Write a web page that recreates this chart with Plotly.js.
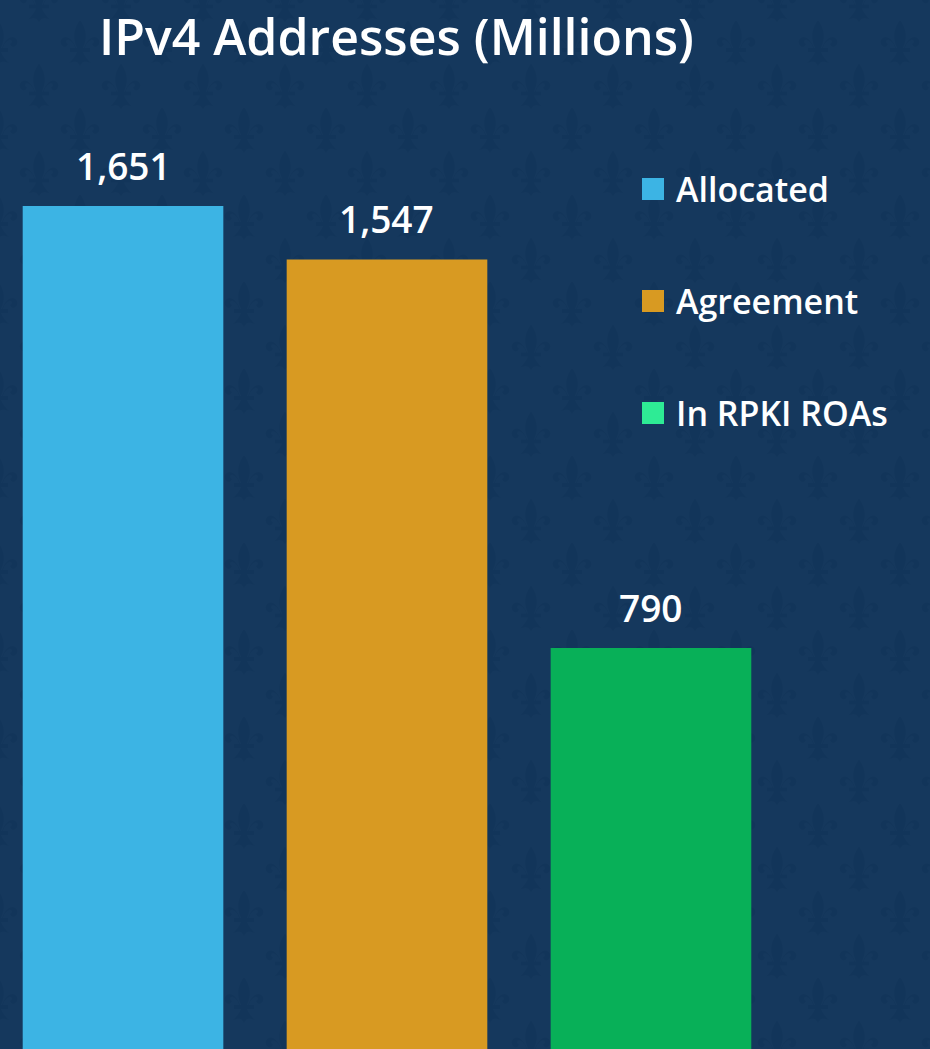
<!DOCTYPE html>
<html>
<head>
<meta charset="utf-8">
<script src="https://cdn.plot.ly/plotly-3.0.1.min.js"></script>
<style>
html,body{margin:0;padding:0;}
#chart{width:930px;height:1049px;}
</style>
</head>
<body>
<div id="chart"></div>
<script>
// ---- data ----
const categories = ["Allocated", "Agreement", "In RPKI ROAs"];
const values = [1651, 1547, 790];
const barColors = ["#3CB4E4", "#D89A22", "#08B058"];
const legendColors = ["#3CB4E4", "#D89A22", "#2EEB95"];
const titleText = "IPv4 Addresses (Millions)";

const W = 930, H = 1049;
const px = x => x / W;
const py = y => (H - y) / H;
const FONT = "Open Sans, Noto Sans, sans-serif";

// decorative fleur-de-lis background pattern
const fleur = 'M0,-23 C6,-15 8,-6 3,5 L-3,5 C-8,-6 -6,-15 0,-23 Z ' +
  'M-4,5 C-7,-4 -15,-10 -19,-3 C-21,3 -14,7 -12,1 C-15,0 -14,-4 -11,-3 C-7,-1 -5,3 -5,5 Z ' +
  'M4,5 C7,-4 15,-10 19,-3 C21,3 14,7 12,1 C15,0 14,-4 11,-3 C7,-1 5,3 5,5 Z ' +
  'M-10,5 L10,5 L10,9 L-10,9 Z ' +
  'M-3,9 L3,9 C5,14 8,17 11,20 C6,19 3,17 0,23 C-3,17 -6,19 -11,20 C-8,17 -5,14 -3,9 Z';
const tile = `<svg xmlns="http://www.w3.org/2000/svg" width="82" height="87">` +
  `<rect width="82" height="87" fill="#15385D"/>` +
  `<g fill="#12355A">` +
  `<path transform="translate(20,22)" d="${fleur}"/>` +
  `<path transform="translate(61,65.5)" d="${fleur}"/>` +
  `<path transform="translate(61,-21.5)" d="${fleur}"/>` +
  `</g></svg>`;
document.body.style.background = `#15385D url("data:image/svg+xml,${encodeURIComponent(tile)}") 60px 21px repeat`;

const trace = {
  type: "bar",
  x: categories,
  y: values,
  marker: {color: barColors},
  width: 0.76,
  hoverinfo: "none",
  showlegend: false
};

const annotations = categories.map((c, i) => ({
  x: c, y: values[i], xref: "x", yref: "y",
  text: values[i].toLocaleString("en-US"),
  showarrow: false, yanchor: "bottom", yshift: 13,
  font: {family: FONT, size: 37, color: "#FFFFFF", weight: 600}
}));

const shapes = [];
const legendY = [189, 301, 413];
categories.forEach((c, i) => {
  shapes.push({
    type: "rect", xref: "paper", yref: "paper",
    x0: px(642), x1: px(664), y0: py(legendY[i] + 11), y1: py(legendY[i] - 11),
    fillcolor: legendColors[i], line: {width: 0}
  });
  annotations.push({
    x: px(674), y: py(legendY[i]), xref: "paper", yref: "paper",
    xanchor: "left", yanchor: "middle", showarrow: false,
    text: c,
    font: {family: FONT, size: 34, color: "#FFFFFF", weight: 600}
  });
});

const layout = {
  width: W, height: H,
  paper_bgcolor: "rgba(0,0,0,0)",
  plot_bgcolor: "rgba(0,0,0,0)",
  margin: {l: 0, r: 0, t: 0, b: 0},
  title: {
    text: titleText, x: px(99), xanchor: "left", xref: "paper",
    y: 1 - 37 / H, yref: "container", yanchor: "middle",
    font: {family: FONT, size: 50, color: "#FFFFFF", weight: 600}
  },
  xaxis: {
    type: "category", range: [-0.466, 3.057],
    showgrid: false, zeroline: false, showticklabels: false, showline: false, ticks: ""
  },
  yaxis: {
    range: [9, 9 + H / 0.5134],
    showgrid: false, zeroline: false, showticklabels: false, showline: false, ticks: ""
  },
  shapes: shapes,
  annotations: annotations,
  showlegend: false
};

Plotly.newPlot("chart", [trace], layout, {displayModeBar: false, staticPlot: true});
</script>
</body>
</html>
